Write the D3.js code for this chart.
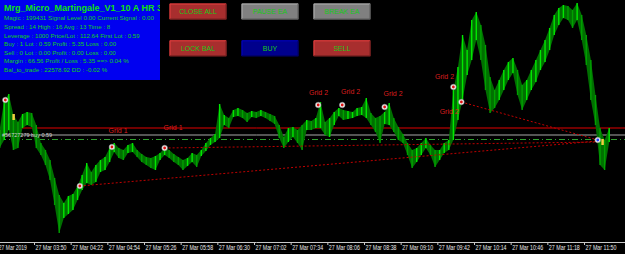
<!DOCTYPE html>
<html>
<head>
<meta charset="utf-8">
<script src="https://cdn.jsdelivr.net/npm/d3@7"></script>
<style>
  body { margin: 0; background: #000; overflow: hidden; }
  svg { display: block; }
  text { font-family: "Liberation Sans", Arial, sans-serif; }
</style>
</head>
<body>
<svg width="625" height="254"></svg>
<script>
// M1 price samples, one every 4 minutes from 03:20 (highs / lows)
var barStart = "03:20", barStep = 4;
var highs = [110.170,110.200,110.206,110.185,110.178,110.186,110.188,110.187,110.175,110.157,
  110.150,110.140,110.122,110.105,110.097,110.104,110.106,110.114,110.125,110.137,
  110.128,110.135,110.140,110.143,110.152,110.157,110.152,110.150,110.155,110.157,
  110.150,110.146,110.143,110.142,110.144,110.147,110.152,110.150,110.146,110.143,
  110.140,110.142,110.147,110.145,110.150,110.157,110.162,110.166,110.196,110.185,
  110.182,110.190,110.192,110.190,110.187,110.189,110.188,110.190,110.188,110.186,
  110.184,110.175,110.163,110.172,110.173,110.170,110.175,110.180,110.179,110.182,
  110.198,110.178,110.182,110.188,110.192,110.190,110.189,110.188,110.192,110.193,
  110.202,110.187,110.182,110.184,110.188,110.197,110.182,110.173,110.166,110.157,
  110.150,110.152,110.157,110.162,110.155,110.150,110.150,110.157,110.160,110.210,
  110.233,110.265,110.250,110.280,110.288,110.275,110.255,110.223,110.210,110.220,
  110.230,110.238,110.242,110.230,110.215,110.220,110.230,110.240,110.250,110.260,
  110.272,110.285,110.292,110.295,110.294,110.290,110.297,110.285,110.265,110.240,
  110.205,110.172,110.160,110.172];
var lows = [110.152,110.160,110.170,110.150,110.152,110.172,110.175,110.173,110.152,110.145,
  110.135,110.120,110.095,110.067,110.082,110.086,110.090,110.100,110.110,110.117,
  110.115,110.118,110.128,110.130,110.138,110.148,110.142,110.140,110.147,110.148,
  110.143,110.138,110.135,110.132,110.130,110.140,110.145,110.142,110.138,110.135,
  110.130,110.134,110.138,110.133,110.144,110.149,110.155,110.158,110.162,110.175,
  110.172,110.183,110.184,110.182,110.178,110.183,110.182,110.184,110.182,110.179,
  110.176,110.162,110.152,110.158,110.163,110.157,110.150,110.170,110.170,110.172,
  110.172,110.165,110.163,110.175,110.184,110.180,110.181,110.182,110.184,110.185,
  110.182,110.175,110.168,110.157,110.176,110.175,110.168,110.160,110.157,110.145,
  110.132,110.138,110.145,110.152,110.145,110.133,110.140,110.147,110.150,110.160,
  110.180,110.200,110.225,110.240,110.260,110.240,110.210,110.187,110.192,110.200,
  110.210,110.220,110.227,110.205,110.190,110.200,110.210,110.218,110.230,110.238,
  110.250,110.265,110.275,110.282,110.280,110.272,110.280,110.260,110.235,110.200,
  110.175,110.135,110.130,110.158];

var tickTimes = ["03:18","03:50","04:22","04:54","05:26","05:58","06:30","07:02","07:34",
  "08:06","08:38","09:10","09:42","10:14","10:46","11:18","11:50"];
var tickLabels = ["27 Mar 2019","27 Mar 03:50","27 Mar 04:22","27 Mar 04:54","27 Mar 05:26",
  "27 Mar 05:58","27 Mar 06:30","27 Mar 07:02","27 Mar 07:34","27 Mar 08:06","27 Mar 08:38",
  "27 Mar 09:10","27 Mar 09:42","27 Mar 10:14","27 Mar 10:46","27 Mar 11:18","27 Mar 11:50"];

var gridLevel = 110.172, openPrice = 110.165, breakEven = 110.1605;
var orderLabel = "#56727279 buy 0.59";

var markerTimes  = ["03:25","03:32","04:30","04:58","05:44","07:58","08:19","08:56","09:56","10:03","12:02","12:06"];
var markerPrices = [110.200,110.183,110.114,110.153,110.152,110.195,110.195,110.193,110.213,110.198,110.160,110.158];
var markerKinds  = ["red","close","red","red","red","red","red","red","red","red","blue","close"];

var trendFrom = [["04:30",110.114],["05:44",110.152],["10:03",110.198]];
var trendTo   = [["12:02",110.159],["12:02",110.158],["12:02",110.160]];

var gridTexts  = ["Grid 1","Grid 1","Grid 2","Grid 2","Grid 2","Grid 2","Grid 2"];
var gridTimes  = ["04:55","05:43","07:50","08:18","08:55","09:40","09:44"];
var gridPrices = [110.1675,110.170,110.205,110.206,110.204,110.221,110.186];

var infoTitle = "Mrg_Micro_Martingale_V1_10  A HR 33";
var infoLines = [
  "Magic : 199431 Signal Level 0.00 Current Signal : 0.00",
  "Spread : 14 High : 16 Avg : 13 Time : 8",
  "Leverage : 1000 Price/Lot : 112.64  First Lot : 0.59",
  "Buy : 1 Lot : 0.59 Profit : 5.35 Loss : 0.00",
  "Sell : 0 Lot : 0.00 Profit : 0.00 Loss : 0.00",
  "Margin : 66.56 Profit / Loss : 5.35 ==> 0.04 %",
  "Bal_to_trade : 22578.92  DD : -0.02 %"];

var buttonNames  = ["CLOSE ALL","PAUSE EA","BREAK EA","LOCK BAL","BUY","SELL"];
var buttonColors = ["#a82e2e","#808080","#808080","#a82e2e","#00008c","#a82e2e"];

var parse = d3.timeParse("%H:%M");
var svg = d3.select("svg");

var x = d3.scaleTime()
    .domain([parse("03:50"), parse("11:50")])
    .range([34, 584]);
var y = d3.scaleLinear()
    .domain([110.060, 110.300])
    .range([240, 0]);

var t0 = parse(barStart);
var bars = highs.map(function(h, i) {
  return {t: d3.timeMinute.offset(t0, i * barStep), hi: h, lo: lows[i]};
});

// horizontal levels
svg.append("line").attr("x1", 0).attr("x2", 625)
  .attr("y1", y(gridLevel)).attr("y2", y(gridLevel))
  .attr("stroke", "#e00000").attr("stroke-width", 1);
svg.append("line").attr("x1", 0).attr("x2", 625)
  .attr("y1", y(openPrice)).attr("y2", y(openPrice))
  .attr("stroke", "#a8a8a8").attr("stroke-width", 1);
svg.append("line").attr("x1", 0).attr("x2", 625)
  .attr("y1", y(breakEven)).attr("y2", y(breakEven))
  .attr("stroke", "#2fa02f").attr("stroke-width", 1)
  .attr("stroke-dasharray", "6,3,1,3");

// price bars
var area = d3.area()
  .x(function(d){ return x(d.t); })
  .y0(function(d){ return y(d.lo); })
  .y1(function(d){ return y(d.hi); });
svg.append("path").datum(bars)
  .attr("d", area)
  .attr("fill", "#007000");

svg.selectAll(".bar")
  .data(bars).enter()
  .append("line")
  .attr("x1", function(d){ return x(d.t); })
  .attr("x2", function(d){ return x(d.t); })
  .attr("y1", function(d){ return y(d.hi); })
  .attr("y2", function(d){ return y(d.lo); })
  .attr("stroke", function(d, i){
    if (i == 0) return "#00d000";
    var prev = bars[i-1];
    return (d.hi + d.lo) >= (prev.hi + prev.lo) ? "#00e800" : "#00a000";
  })
  .attr("stroke-width", 1.4);

// dotted trend lines from entries
trendFrom.forEach(function(a, i) {
  var b = trendTo[i];
  svg.append("line")
    .attr("x1", x(parse(a[0]))).attr("y1", y(a[1]))
    .attr("x2", x(parse(b[0]))).attr("y2", y(b[1]))
    .attr("stroke", "#c00000").attr("stroke-width", 1)
    .attr("stroke-dasharray", "2,2");
});

svg.append("text")
  .attr("x", 2).attr("y", y(openPrice) + 1.5)
  .style("font-size", "5.5px").attr("fill", "#d0d0d0")
  .text(orderLabel);

// grid labels
svg.selectAll(".grid")
  .data(gridTexts).enter()
  .append("text")
  .attr("x", function(d, i){ return x(parse(gridTimes[i])); })
  .attr("y", function(d, i){ return y(gridPrices[i]); })
  .style("font-size", "7px")
  .attr("fill", "#dc1e1e")
  .text(function(d){ return d; });

// order markers
markerTimes.forEach(function(t, i) {
  var mx = x(parse(t)), my = y(markerPrices[i]), k = markerKinds[i];
  if (k == "close") {
    svg.append("rect").attr("x", mx - 1).attr("y", my - 3)
      .attr("width", 2.5).attr("height", 6).attr("fill", "#f0d040");
  } else {
    svg.append("circle").attr("cx", mx).attr("cy", my).attr("r", 2.8)
      .attr("fill", "#f0f0f0").attr("stroke", "#909090").attr("stroke-width", 0.5);
    svg.append("circle").attr("cx", mx).attr("cy", my).attr("r", 1.4)
      .attr("fill", k == "blue" ? "#2040ff" : "#e01010");
  }
});

// time axis
var ticks = tickTimes.map(parse);
var axis = d3.axisBottom(x)
  .tickValues(ticks)
  .tickFormat(function(d, i){ return tickLabels[i]; })
  .tickSizeInner(3).tickSizeOuter(0);
var gAxis = svg.append("g")
  .attr("transform", "translate(0,242)")
  .call(axis);
gAxis.select(".domain").attr("stroke", "#c8c8c8").attr("d", "M0,0.5H625");
gAxis.selectAll(".tick line").attr("stroke", "#c8c8c8");
gAxis.selectAll(".tick text")
  .attr("text-anchor", "start")
  .attr("x", 1).attr("y", 3)
  .attr("fill", "#e8e8e8")
  .style("font-size", "6.5px")
  .attr("textLength", function(d, i){ return i == 0 ? 28 : 31; })
  .attr("lengthAdjust", "spacingAndGlyphs");

// info panel
svg.append("clipPath").attr("id", "pclip")
  .append("rect").attr("width", 160).attr("height", 80);
var panel = svg.append("g").attr("clip-path", "url(#pclip)");
panel.append("rect").attr("width", 160).attr("height", 80).attr("fill", "#0000f0");
panel.append("text")
  .attr("x", 4).attr("y", 10.5)
  .style("font-size", "9px").style("font-weight", "bold")
  .attr("fill", "#10e010")
  .text(infoTitle);
panel.selectAll(".info")
  .data(infoLines).enter()
  .append("text")
  .attr("x", 4)
  .attr("y", function(d, i){ return 20.3 + i * 8.6; })
  .style("font-size", "6.2px")
  .attr("fill", "#10d010")
  .text(function(d){ return d; });

// buttons
buttonNames.forEach(function(name, i) {
  var bx = 169.5 + (i % 3) * 72, by = 3.5 + Math.floor(i / 3) * 36.8;
  var w = 57, h = 16;
  var c = d3.color(buttonColors[i]);
  var g = svg.append("g").attr("transform", "translate(" + bx + "," + by + ")");
  g.append("rect").attr("width", w).attr("height", h).attr("fill", buttonColors[i]);
  g.append("path").attr("d", "M0.5," + (h - 0.5) + "V0.5H" + (w - 0.5))
    .attr("fill", "none").attr("stroke", c.brighter(0.9));
  g.append("path").attr("d", "M0.5," + (h - 0.5) + "H" + (w - 0.5) + "V0.5")
    .attr("fill", "none").attr("stroke", c.darker(1));
  g.append("text")
    .attr("x", w / 2).attr("y", h / 2 + 2.5)
    .attr("text-anchor", "middle")
    .style("font-size", "7px")
    .attr("fill", "#18c818")
    .text(name);
});
</script>
</body>
</html>
